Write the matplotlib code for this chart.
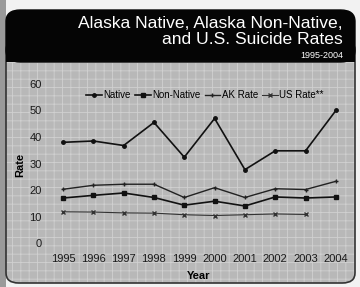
import numpy as np
import matplotlib.pyplot as plt
from matplotlib.patches import FancyBboxPatch, Rectangle

years = [1995, 1996, 1997, 1998, 1999, 2000, 2001, 2002, 2003, 2004]
native = [38.0, 38.5, 36.8, 45.5, 32.4, 47.0, 27.7, 34.8, 34.8, 50.0]
non_native = [17.0, 18.0, 18.9, 17.2, 14.3, 15.8, 14.0, 17.4, 17.0, 17.4]
ak_rate = [20.3, 21.8, 22.2, 22.2, 17.2, 20.9, 17.2, 20.5, 20.2, 23.3]
us_years = years[:9]
us_rate = [11.8, 11.7, 11.4, 11.3, 10.7, 10.4, 10.7, 11.0, 10.8]

W, H = 360, 287
fig = plt.figure(figsize=(3.6, 2.87), dpi=100)
fig.patch.set_facecolor('#f2f2f2')
plt.rcParams['hatch.linewidth'] = 0.6

def fx(px):
    return px / W

def fy(py):
    return 1 - py / H

# left textured strip
fig.patches.append(Rectangle((0, 0), fx(6), 1, transform=fig.transFigure,
                             facecolor='#9a9a9a', edgecolor='none', zorder=0))

# gray chart panel with rounded bottom (top hidden under header)
panel = FancyBboxPatch((fx(6), fy(283)), fx(349), fy(40) - fy(283),
                       boxstyle='round,pad=0,rounding_size=0.035',
                       transform=fig.transFigure, facecolor='#b8b8b8',
                       edgecolor='#d0d0d0', linewidth=0, hatch='++',
                       zorder=1)
fig.patches.append(panel)
border = FancyBboxPatch((fx(6), fy(283)), fx(349), fy(40) - fy(283),
                        boxstyle='round,pad=0,rounding_size=0.035',
                        transform=fig.transFigure, facecolor='none',
                        edgecolor='#333333', linewidth=1.2, zorder=1.5)
fig.patches.append(border)

# black header with rounded top
header = FancyBboxPatch((fx(6), fy(62)), fx(349), fy(10) - fy(62),
                        boxstyle='round,pad=0,rounding_size=0.04',
                        transform=fig.transFigure, facecolor='#050505',
                        edgecolor='#050505', zorder=2)
fig.patches.append(header)
fig.patches.append(Rectangle((fx(6), fy(62)), fx(349), fy(45) - fy(62),
                             transform=fig.transFigure, facecolor='#050505',
                             edgecolor='none', zorder=2))

fig.text(fx(343), fy(23), 'Alaska Native, Alaska Non-Native,', color='white',
         ha='right', va='center', fontsize=12.6, fontfamily='Liberation Sans', zorder=3)
fig.text(fx(343), fy(40), 'and U.S. Suicide Rates', color='white',
         ha='right', va='center', fontsize=12.6, fontfamily='Liberation Sans', zorder=3)
fig.text(fx(343), fy(55.5), '1995-2004', color='white',
         ha='right', va='center', fontsize=6.5, fontfamily='Liberation Sans', zorder=3)

ax = fig.add_axes([fx(50), fy(250), fx(298), fy(80) - fy(250)], zorder=4)
ax.patch.set_alpha(0)
for s in ax.spines.values():
    s.set_visible(False)

ax.plot(years, native, color='#111111', lw=1.2, marker='o', ms=2.5, label='Native')
ax.plot(years, non_native, color='#111111', lw=1.2, marker='s', ms=3.2, label='Non-Native')
ax.plot(years, ak_rate, color='#222222', lw=1.0, marker='+', ms=3.5, label='AK Rate')
ax.plot(us_years, us_rate, color='#333333', lw=0.8, marker='x', ms=3.5, label='US Rate**')

ax.set_xlim(1994.571, 2004.40)
ax.set_ylim(-2.6, 61.5)
ax.set_xticks(years)
ax.set_yticks([0, 10, 20, 30, 40, 50, 60])
ax.tick_params(length=0, labelsize=8, colors='#1a1a1a')
ax.tick_params(axis='x', pad=3)
ax.tick_params(axis='y', pad=6)
for lab in ax.get_xticklabels() + ax.get_yticklabels():
    lab.set_fontfamily('Liberation Sans')

ax.set_xlabel('Year', fontsize=8, fontweight='bold', fontfamily='Liberation Sans', labelpad=5)
ax.set_ylabel('Rate', fontsize=8, fontweight='bold', fontfamily='Liberation Sans', labelpad=3)

ax.legend(loc='upper center', bbox_to_anchor=(0.52, 0.99), ncol=4, frameon=False,
          handlelength=1.6, handletextpad=0.15, columnspacing=0.45,
          prop={'family': 'Liberation Sans', 'size': 7})

fig.savefig('out.png', dpi=100, facecolor=fig.get_facecolor())
